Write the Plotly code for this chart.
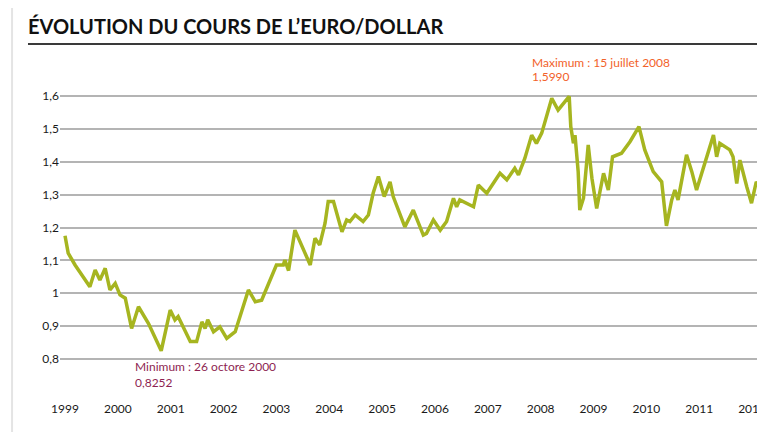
import plotly.graph_objects as go

# Cours EUR/USD (années décimales)
time_years = [
    1999.00, 1999.06, 1999.19, 1999.32, 1999.47, 1999.57, 1999.66, 1999.76, 1999.85, 1999.95,
    2000.04, 2000.14, 2000.26, 2000.39, 2000.58, 2000.82, 2000.99,
    2001.08, 2001.14, 2001.37, 2001.49, 2001.59, 2001.65, 2001.70, 2001.81, 2001.93,
    2002.06, 2002.22, 2002.47, 2002.60, 2002.72,
    2003.00, 2003.13, 2003.16, 2003.23, 2003.35, 2003.51, 2003.64, 2003.73, 2003.82, 2003.92, 2003.98,
    2004.08, 2004.24, 2004.33, 2004.39, 2004.49, 2004.64, 2004.74, 2004.83, 2004.93,
    2005.04, 2005.15, 2005.21, 2005.43, 2005.59, 2005.78, 2005.84, 2005.97,
    2006.10, 2006.22, 2006.35, 2006.41, 2006.47, 2006.73, 2006.82, 2006.98,
    2007.23, 2007.36, 2007.51, 2007.58, 2007.70, 2007.83, 2007.92,
    2008.02, 2008.21, 2008.33, 2008.54, 2008.57, 2008.62, 2008.65, 2008.71, 2008.74, 2008.81, 2008.90, 2008.97,
    2009.06, 2009.19, 2009.28, 2009.36, 2009.53, 2009.69, 2009.86, 2009.97,
    2010.13, 2010.29, 2010.38, 2010.48, 2010.54, 2010.60, 2010.76, 2010.86, 2010.95,
    2011.08, 2011.27, 2011.33, 2011.39, 2011.58, 2011.64, 2011.71, 2011.77, 2011.90, 2011.99,
    2012.08, 2012.17, 2012.25,
]
eur_usd = [
    1.175, 1.122, 1.086, 1.055, 1.020, 1.071, 1.040, 1.076, 1.010, 1.030,
    0.995, 0.985, 0.893, 0.959, 0.908, 0.825, 0.949,
    0.919, 0.929, 0.853, 0.853, 0.913, 0.893, 0.919, 0.883, 0.898,
    0.863, 0.883, 1.010, 0.974, 0.979,
    1.086, 1.086, 1.101, 1.069, 1.192, 1.132, 1.086, 1.167, 1.147, 1.213, 1.279,
    1.279, 1.187, 1.223, 1.218, 1.238, 1.218, 1.238, 1.304, 1.355,
    1.294, 1.339, 1.294, 1.202, 1.253, 1.177, 1.182, 1.223,
    1.192, 1.218, 1.289, 1.263, 1.284, 1.263, 1.329, 1.304,
    1.365, 1.345, 1.380, 1.360, 1.410, 1.481, 1.456,
    1.487, 1.593, 1.557, 1.599, 1.507, 1.456, 1.481, 1.370, 1.253, 1.289, 1.451, 1.350,
    1.258, 1.365, 1.314, 1.415, 1.426, 1.461, 1.507, 1.436,
    1.370, 1.339, 1.205, 1.284, 1.314, 1.284, 1.421, 1.370, 1.314,
    1.385, 1.481, 1.415, 1.456, 1.436, 1.415, 1.334, 1.405, 1.324, 1.274,
    1.339, 1.319, 1.319,
]

y_ticks = [0.8, 0.9, 1.0, 1.1, 1.2, 1.3, 1.4, 1.5, 1.6]
y_ticktext = ["0,8", "0,9", "1", "1,1", "1,2", "1,3", "1,4", "1,5", "1,6"]
x_ticks = list(range(1999, 2013))
x_ticktext = [str(y) for y in x_ticks]

FONT = "Lato"
LINE_COLOR = "#a6b520"
MAX_COLOR = "#f2622a"
MIN_COLOR = "#8e1f52"

# la page ajoute une marge de 8 px (body) : la figure est réduite d'autant
W, H = 757, 424

fig = go.Figure()

fig.add_trace(go.Scatter(
    x=time_years,
    y=eur_usd,
    mode="lines",
    line=dict(color=LINE_COLOR, width=3.5),
    showlegend=False,
    hoverinfo="skip",
))

# annotations min / max
fig.add_annotation(x=2007.80, y=1.701, text="Maximum : 15 juillet 2008",
                   xanchor="left", yanchor="middle", showarrow=False,
                   font=dict(family=FONT, size=12, color=MAX_COLOR))
fig.add_annotation(x=2007.80, y=1.659, text="1,5990",
                   xanchor="left", yanchor="middle", showarrow=False,
                   font=dict(family=FONT, size=12, color=MAX_COLOR))
fig.add_annotation(x=2000.28, y=0.777, text="Minimum : 26 octore 2000",
                   xanchor="left", yanchor="middle", showarrow=False,
                   font=dict(family=FONT, size=12, color=MIN_COLOR))
fig.add_annotation(x=2000.28, y=0.730, text="0,8252",
                   xanchor="left", yanchor="middle", showarrow=False,
                   font=dict(family=FONT, size=12, color=MIN_COLOR))

# soulignement du titre et bord gauche
fig.add_shape(type="line", xref="paper", yref="paper",
              x0=-0.0454, x1=1.0, y0=1.0171, y1=1.0171,
              line=dict(color="#3a3a3a", width=2))
fig.add_shape(type="line", xref="paper", yref="paper",
              x0=-0.068, x1=-0.068, y0=-0.12, y1=1.15,
              line=dict(color="#e4e4e4", width=2))

fig.update_layout(
    width=W,
    height=H,
    margin=dict(l=52, r=0, t=42, b=32, autoexpand=False),
    paper_bgcolor="white",
    plot_bgcolor="white",
    title=dict(
        text="ÉVOLUTION DU COURS DE L’EURO/DOLLAR",
        x=20 / W, xanchor="left",
        y=1 - 19 / H, yanchor="middle",
        font=dict(family=FONT, size=20, color="#111111", weight="bold"),
    ),
    xaxis=dict(
        range=[1998.905, 2012.245],
        tickvals=x_ticks,
        ticktext=x_ticktext,
        showgrid=False,
        zeroline=False,
        showline=False,
        ticks="",
        automargin=False,
        ticklabeloverflow="allow",
        tickfont=dict(family=FONT, size=12, color="#1a1a1a"),
    ),
    yaxis=dict(
        range=[0.6753, 1.7399],
        tickvals=y_ticks,
        ticktext=y_ticktext,
        showgrid=True,
        gridcolor="#b4b4b4",
        gridwidth=1.5,
        zeroline=False,
        showline=False,
        ticks="",
        automargin=False,
        tickfont=dict(family=FONT, size=12, color="#1a1a1a"),
    ),
)

fig.write_html("out.html")
